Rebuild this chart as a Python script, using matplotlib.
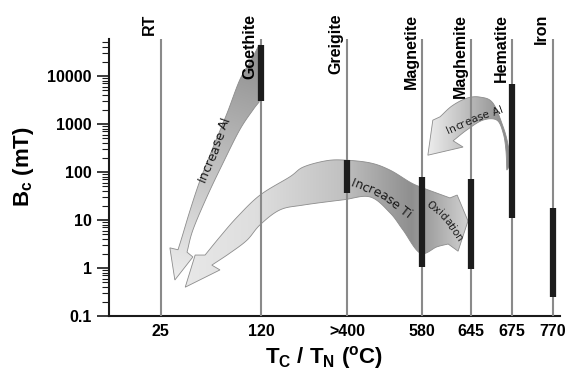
import numpy as np
import matplotlib
matplotlib.use("Agg")
import matplotlib.pyplot as plt
from matplotlib.patches import Polygon
from matplotlib.ticker import FixedLocator, LogLocator, NullFormatter
from matplotlib.font_manager import FontProperties
from matplotlib import transforms as mtrans

# ---------------- data ----------------
minerals = ["RT", "Goethite", "Greigite", "Magnetite", "Maghemite", "Hematite", "Iron"]
temp_labels = ["25", "120", ">400", "580", "645", "675", "770"]
bc_low = [None, 3000, 37, 1.05, 0.95, 11, 0.25]     # mT
bc_high = [None, 44000, 178, 79, 71, 6800, 18]      # mT
ytick_vals = [0.1, 1, 10, 100, 1000, 10000]
ytick_labels = ["0.1", "1", "10", "100", "1000", "10000"]

# ---------------- layout ----------------
x_pos = [1.15, 3.37, 5.28, 6.94, 8.03, 8.94, 9.84]
XLIM = (0, 10)
YLIM = (0.1, 5.9e4)

plt.rcParams['font.family'] = ['Liberation Sans', 'DejaVu Sans']
plt.rcParams['mathtext.fontset'] = 'custom'
plt.rcParams['mathtext.rm'] = 'Liberation Sans:bold'
plt.rcParams['mathtext.it'] = 'Liberation Sans:bold'
plt.rcParams['mathtext.bf'] = 'Liberation Sans:bold'

fig = plt.figure(figsize=(5.78, 3.77), dpi=100)
ax = fig.add_axes([109/578, 61/377, 451/578, 277/377])
ax.set_yscale('log')
ax.set_xlim(*XLIM)
ax.set_ylim(*YLIM)
ax.set_autoscale_on(False)

for s in ['top', 'right']:
    ax.spines[s].set_visible(False)
for s in ['left', 'bottom']:
    ax.spines[s].set_linewidth(1.5)
    ax.spines[s].set_color('#1a1a1a')

ax.yaxis.set_major_locator(FixedLocator(ytick_vals))
ax.set_yticklabels(ytick_labels)
ax.yaxis.set_minor_locator(LogLocator(base=10, subs=np.arange(2, 10)))
ax.yaxis.set_minor_formatter(NullFormatter())
ax.tick_params(axis='y', which='major', length=8.5, width=1.2, pad=4,
               labelsize=11.5, direction='out', color='#1a1a1a')
ax.tick_params(axis='y', which='minor', length=5, width=0.8, direction='out', color='#1a1a1a')
ax.set_xticks(x_pos)
ax.set_xticklabels(temp_labels)
ax.tick_params(axis='x', length=0, pad=6, labelsize=11.5)
for lab in ax.get_xticklabels() + ax.get_yticklabels():
    lab.set_fontweight('bold')

# vertical lines and ranges
ax.vlines(x_pos, YLIM[0], YLIM[1], color='#8a8a8a', lw=1.5, zorder=3, clip_on=False)
for x, lo, hi in zip(x_pos, bc_low, bc_high):
    if lo is None:
        continue
    ax.vlines(x, lo, hi, color='#1c1c1c', lw=4.5, zorder=4, capstyle='butt')

# mineral labels at top
lab_tr = mtrans.offset_copy(mtrans.blended_transform_factory(ax.transData, fig.transFigure),
                            fig=fig, x=-11, y=0, units='dots')
for x, name in zip(x_pos, minerals):
    ax.text(x, 1 - 14/377, name, transform=lab_tr, rotation=90, ha='center', va='top',
            fontsize=11.5, fontweight='bold', clip_on=False)

# axis titles
fig.text(23/578, 1 - 167/377, r'B$_\mathrm{c}$ (mT)', rotation=90, ha='center', va='center',
         fontsize=16, fontweight='bold')
fig.text(324/578, 1 - 357/377, r'T$_\mathrm{C}$ / T$_\mathrm{N}$ ($^\mathrm{o}$C)',
         ha='center', va='center', fontsize=16, fontweight='bold')

# ---------------- arrow annotations (x, log10 Bc) ----------------
def catmull(pts, n=12):
    pts = np.asarray(pts, float)
    if len(pts) < 3:
        return pts
    P = np.vstack([2*pts[0]-pts[1], pts, 2*pts[-1]-pts[-2]])
    out = []
    for i in range(1, len(P)-2):
        p0, p1, p2, p3 = P[i-1], P[i], P[i+1], P[i+2]
        for t in np.linspace(0, 1, n, endpoint=False):
            t2 = t*t; t3 = t2*t
            out.append(0.5*((2*p1) + (-p0+p2)*t + (2*p0-5*p1+4*p2-p3)*t2 + (-p0+3*p1-3*p2+p3)*t3))
    out.append(pts[-1])
    return np.array(out)

def to_disp(pts):
    pts = np.asarray(pts, float)
    return ax.transData.transform(np.column_stack([pts[:, 0], 10**pts[:, 1]]))

def gradient_arrow(pieces, g0, g1, stops):
    verts = []
    for kind, pts in pieces:
        d = to_disp(pts)
        verts.append(catmull(d) if kind == 'curve' else d)
    verts = np.vstack(verts)
    data_verts = ax.transData.inverted().transform(verts)
    poly = Polygon(data_verts, closed=True, facecolor='none', edgecolor='#8c8c8c',
                   lw=0.6, zorder=2.1, transform=ax.transData)
    ax.add_patch(poly)
    a = to_disp([g0])[0]; b = to_disp([g1])[0]
    x0, y0, w, h = ax.bbox.bounds
    W, H = int(round(w)), int(round(h))
    xs = x0 + (np.arange(W) + 0.5) * w / W
    ys = y0 + h - (np.arange(H) + 0.5) * h / H
    X, Y = np.meshgrid(xs, ys)
    v = b - a
    t = np.clip(((X - a[0]) * v[0] + (Y - a[1]) * v[1]) / (v @ v), 0, 1)
    g = np.interp(t, [s[0] for s in stops], [s[1] for s in stops])
    img = np.dstack([g, g, g])
    im = ax.imshow(img, extent=[0, 1, 0, 1], transform=ax.transAxes, aspect='auto',
                   zorder=2, interpolation='bilinear')
    im.set_clip_path(poly)

# Goethite "Increase Al"
gradient_arrow([
    ('curve', [(3.33, 4.65), (3.15, 4.33), (2.90, 3.92), (2.62, 3.23), (2.31, 2.52),
               (2.02, 1.83), (1.80, 1.21), (1.62, 0.65), (1.53, 0.38)]),
    ('line', [(1.35, 0.42), (1.46, -0.25), (1.86, 0.23)]),
    ('curve', [(1.73, 0.33), (1.86, 0.79), (2.17, 1.48), (2.53, 2.19), (2.90, 2.88),
               (3.19, 3.29), (3.33, 3.46)]),
], (3.3, 4.65), (1.5, -0.25), [(0, 0.55), (0.45, 0.73), (1, 0.93)])

# Greigite "Increase Ti" / "Oxidation"
gradient_arrow([
    ('curve', [(2.28, 0.06), (2.68, 0.31), (3.06, 0.58), (3.35, 0.90), (3.79, 1.21),
               (4.30, 1.31), (5.19, 1.42), (5.79, 1.48), (6.23, 1.15), (6.52, 0.79),
               (6.90, 0.31), (7.27, 0.44), (7.52, 0.50)]),
    ('line', [(7.74, 0.35), (7.96, 0.98), (7.72, 1.52)]),
    ('curve', [(7.56, 1.46), (7.27, 1.56), (6.90, 1.69), (6.67, 1.79), (6.23, 2.04),
               (5.79, 2.19), (5.19, 2.25), (4.79, 2.23), (4.30, 2.10), (4.01, 1.90),
               (3.35, 1.52), (2.84, 1.06), (2.46, 0.65), (2.13, 0.27)]),
    ('line', [(1.91, 0.27), (1.69, -0.40), (2.46, -0.04)]),
], (1.69, 1.0), (7.96, 1.0), [(0, 0.91), (0.25, 0.87), (0.55, 0.76), (0.8, 0.56),
                              (0.86, 0.63), (1, 0.82)])

# Hematite "Increase Al"
gradient_arrow([
    ('curve', [(8.91, 2.15), (8.85, 2.56), (8.74, 2.94), (8.51, 3.44), (8.23, 3.56),
               (7.94, 3.54), (7.61, 3.38), (7.34, 3.15)]),
    ('line', [(7.18, 3.08), (7.07, 2.35), (7.85, 2.52)]),
    ('curve', [(7.63, 2.65), (7.94, 2.88), (8.29, 3.08), (8.60, 3.08), (8.74, 2.81),
               (8.80, 2.46), (8.82, 2.04)]),
], (7.07, 3.0), (8.91, 3.0), [(0, 0.93), (0.45, 0.75), (1, 0.52)])

# ---------------- arrow captions ----------------
renderer = fig.canvas.get_renderer()

def curved_text(text, pts, fontsize):
    prop = FontProperties(family='DejaVu Sans', size=fontsize)
    curve = catmull(to_disp(pts), n=40)
    seg = np.hypot(*np.diff(curve, axis=0).T)
    s = np.concatenate([[0], np.cumsum(seg)])
    total_w = renderer.get_text_width_height_descent(text, prop, ismath=False)[0]
    start = s[-1] / 2 - total_w / 2
    for i, ch in enumerate(text):
        if ch == ' ':
            continue
        w_pref = renderer.get_text_width_height_descent(text[:i + 1], prop, ismath=False)[0]
        w_ch = renderer.get_text_width_height_descent(ch, prop, ismath=False)[0]
        c = start + w_pref - w_ch / 2
        px = np.interp(c, s, curve[:, 0]); py = np.interp(c, s, curve[:, 1])
        k = np.clip(np.searchsorted(s, c), 1, len(s) - 1)
        ang = np.degrees(np.arctan2(curve[k, 1] - curve[k - 1, 1], curve[k, 0] - curve[k - 1, 0]))
        dx, dy = ax.transData.inverted().transform((px, py))
        ax.text(dx, dy, ch, fontproperties=prop, rotation=ang, rotation_mode='anchor',
                ha='center', va='center_baseline', color='#1a1a1a', zorder=5)

curved_text('Increase Al', [(1.97, 1.70), (2.33, 2.50), (2.62, 3.25)], 9)
curved_text('Increase Ti', [(5.34, 1.83), (6.05, 1.54), (6.72, 1.08)], 9)
curved_text('Oxidation', [(7.12, 1.35), (7.47, 1.04), (7.78, 0.62)], 7.5)
curved_text('Increase Al', [(7.47, 2.86), (8.05, 3.10), (8.72, 3.33)], 7.8)

fig.savefig('out.png', dpi=100)
